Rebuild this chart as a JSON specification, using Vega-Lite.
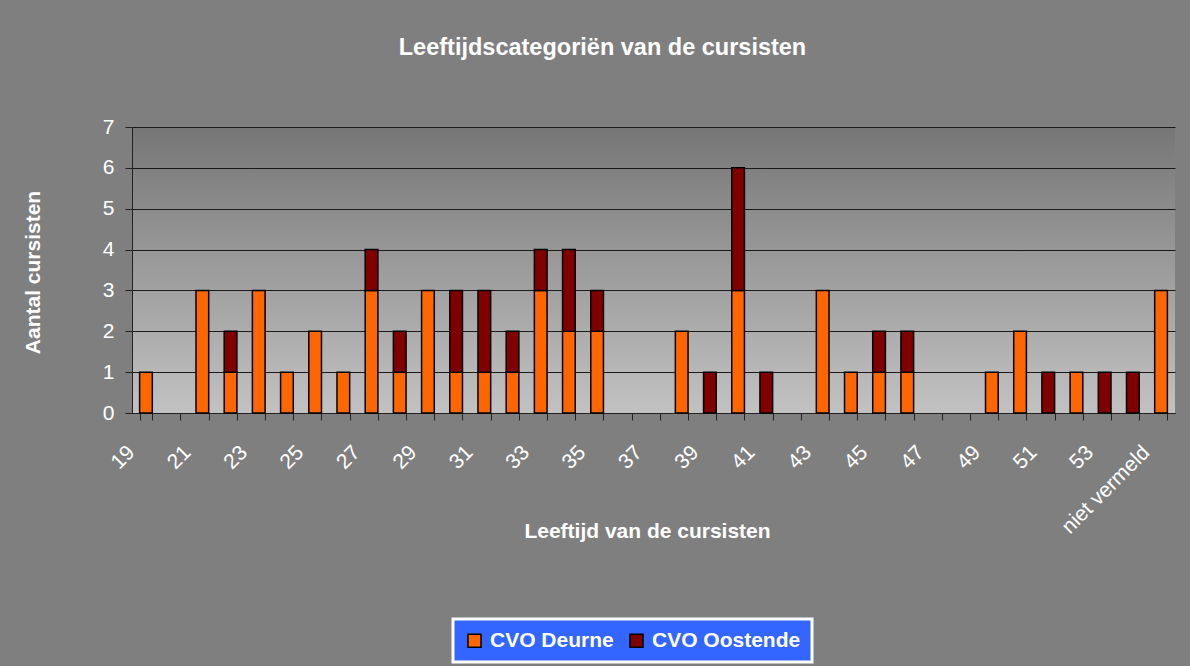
{
  "$schema": "https://vega.github.io/schema/vega-lite/v6.json",
  "width": 1043,
  "height": 286,
  "autosize": {"type": "none"},
  "padding": {"left": 132, "top": 127, "right": 15, "bottom": 253},
  "background": "#7f7f7f",
  "title": {
    "text": "Leeftijdscategoriën van de cursisten",
    "font": "Liberation Sans",
    "fontSize": 23.5,
    "fontWeight": "bold",
    "color": "white",
    "anchor": "middle",
    "dx": -51,
    "offset": 57
  },
  "data": {
    "values": [
      {"leeftijd": "19", "school": "CVO Deurne", "aantal": 1},
      {"leeftijd": "21", "school": "CVO Deurne", "aantal": 3},
      {"leeftijd": "22", "school": "CVO Deurne", "aantal": 1},
      {"leeftijd": "22", "school": "CVO Oostende", "aantal": 1},
      {"leeftijd": "23", "school": "CVO Deurne", "aantal": 3},
      {"leeftijd": "24", "school": "CVO Deurne", "aantal": 1},
      {"leeftijd": "25", "school": "CVO Deurne", "aantal": 2},
      {"leeftijd": "26", "school": "CVO Deurne", "aantal": 1},
      {"leeftijd": "27", "school": "CVO Deurne", "aantal": 3},
      {"leeftijd": "27", "school": "CVO Oostende", "aantal": 1},
      {"leeftijd": "28", "school": "CVO Deurne", "aantal": 1},
      {"leeftijd": "28", "school": "CVO Oostende", "aantal": 1},
      {"leeftijd": "29", "school": "CVO Deurne", "aantal": 3},
      {"leeftijd": "30", "school": "CVO Deurne", "aantal": 1},
      {"leeftijd": "30", "school": "CVO Oostende", "aantal": 2},
      {"leeftijd": "31", "school": "CVO Deurne", "aantal": 1},
      {"leeftijd": "31", "school": "CVO Oostende", "aantal": 2},
      {"leeftijd": "32", "school": "CVO Deurne", "aantal": 1},
      {"leeftijd": "32", "school": "CVO Oostende", "aantal": 1},
      {"leeftijd": "33", "school": "CVO Deurne", "aantal": 3},
      {"leeftijd": "33", "school": "CVO Oostende", "aantal": 1},
      {"leeftijd": "34", "school": "CVO Deurne", "aantal": 2},
      {"leeftijd": "34", "school": "CVO Oostende", "aantal": 2},
      {"leeftijd": "35", "school": "CVO Deurne", "aantal": 2},
      {"leeftijd": "35", "school": "CVO Oostende", "aantal": 1},
      {"leeftijd": "38", "school": "CVO Deurne", "aantal": 2},
      {"leeftijd": "39", "school": "CVO Oostende", "aantal": 1},
      {"leeftijd": "40", "school": "CVO Deurne", "aantal": 3},
      {"leeftijd": "40", "school": "CVO Oostende", "aantal": 3},
      {"leeftijd": "41", "school": "CVO Oostende", "aantal": 1},
      {"leeftijd": "43", "school": "CVO Deurne", "aantal": 3},
      {"leeftijd": "44", "school": "CVO Deurne", "aantal": 1},
      {"leeftijd": "45", "school": "CVO Deurne", "aantal": 1},
      {"leeftijd": "45", "school": "CVO Oostende", "aantal": 1},
      {"leeftijd": "46", "school": "CVO Deurne", "aantal": 1},
      {"leeftijd": "46", "school": "CVO Oostende", "aantal": 1},
      {"leeftijd": "49", "school": "CVO Deurne", "aantal": 1},
      {"leeftijd": "50", "school": "CVO Deurne", "aantal": 2},
      {"leeftijd": "51", "school": "CVO Oostende", "aantal": 1},
      {"leeftijd": "52", "school": "CVO Deurne", "aantal": 1},
      {"leeftijd": "53", "school": "CVO Oostende", "aantal": 1},
      {"leeftijd": "54", "school": "CVO Oostende", "aantal": 1},
      {"leeftijd": "niet vermeld", "school": "CVO Deurne", "aantal": 3}
    ]
  },
  "mark": {"type": "bar", "stroke": "black", "strokeWidth": 1.5},
  "encoding": {
    "x": {
      "field": "leeftijd",
      "type": "ordinal",
      "scale": {
        "domain": ["19","20","21","22","23","24","25","26","27","28","29","30","31","32","33","34","35","36","37","38","39","40","41","42","43","44","45","46","47","48","49","50","51","52","53","54","niet vermeld"],
        "paddingInner": 0.55,
        "paddingOuter": 0.27
      },
      "axis": {
        "title": "Leeftijd van de cursisten",
        "titleFont": "Liberation Sans",
        "titleFontSize": 21,
        "titleFontWeight": "bold",
        "titleColor": "white",
        "titleX": 515,
        "titleY": 118,
        "titleAlign": "center",
        "titleBaseline": "middle",
        "labelExpr": "datum.value == 'niet vermeld' || parseInt(datum.value) % 2 == 1 ? datum.label : ''",
        "labelOverlap": false,
        "labelAngle": -45,
        "labelAlign": "right",
        "labelBaseline": "middle",
        "labelPadding": 29,
        "labelOffset": -15,
        "labelFont": "Liberation Sans",
        "labelFontSize": 21,
        "labelColor": "white",
        "labelLimit": 300,
        "tickBand": "extent",
        "tickSize": 7,
        "tickColor": "#222222",
        "domainColor": "#222222",
        "grid": false
      }
    },
    "y": {
      "field": "aantal",
      "type": "quantitative",
      "aggregate": "sum",
      "stack": "zero",
      "scale": {"domain": [0, 7], "nice": false},
      "axis": {
        "title": "Aantal cursisten",
        "titleFont": "Liberation Sans",
        "titleFontSize": 21,
        "titleFontWeight": "bold",
        "titleColor": "white",
        "titleX": -99,
        "titleY": 145,
        "titleAlign": "center",
        "titleBaseline": "middle",
        "values": [0, 1, 2, 3, 4, 5, 6, 7],
        "labelFont": "Liberation Sans",
        "labelFontSize": 21,
        "labelColor": "white",
        "labelPadding": 11,
        "tickSize": 7,
        "tickColor": "#222222",
        "domainColor": "#222222",
        "grid": true,
        "gridColor": "#1a1a1a",
        "gridWidth": 1
      }
    },
    "color": {
      "field": "school",
      "type": "nominal",
      "scale": {"domain": ["CVO Deurne", "CVO Oostende"], "range": ["#ff6600", "#800000"]},
      "legend": {
        "title": null,
        "orient": "none",
        "legendX": 321,
        "legendY": 492,
        "direction": "horizontal",
        "columns": 2,
        "symbolType": "square",
        "symbolSize": 170,
        "symbolStrokeColor": "black",
        "symbolStrokeWidth": 1.5,
        "symbolOpacity": 1,
        "labelFont": "Liberation Sans",
        "labelFontSize": 21,
        "labelFontWeight": "bold",
        "labelColor": "white",
        "labelOffset": 5,
        "columnPadding": 12,
        "padding": 11,
        "fillColor": "#3366ff",
        "strokeColor": "white"
      }
    },
    "order": {"field": "school", "sort": "ascending"}
  },
  "config": {
    "view": {
      "stroke": null,
      "fill": {
        "gradient": "linear",
        "x1": 0, "y1": 0, "x2": 0, "y2": 1,
        "stops": [
          {"offset": 0, "color": "#767676"},
          {"offset": 1, "color": "#c2c2c2"}
        ]
      }
    },
    "legend": {"strokeWidth": 3}
  }
}
